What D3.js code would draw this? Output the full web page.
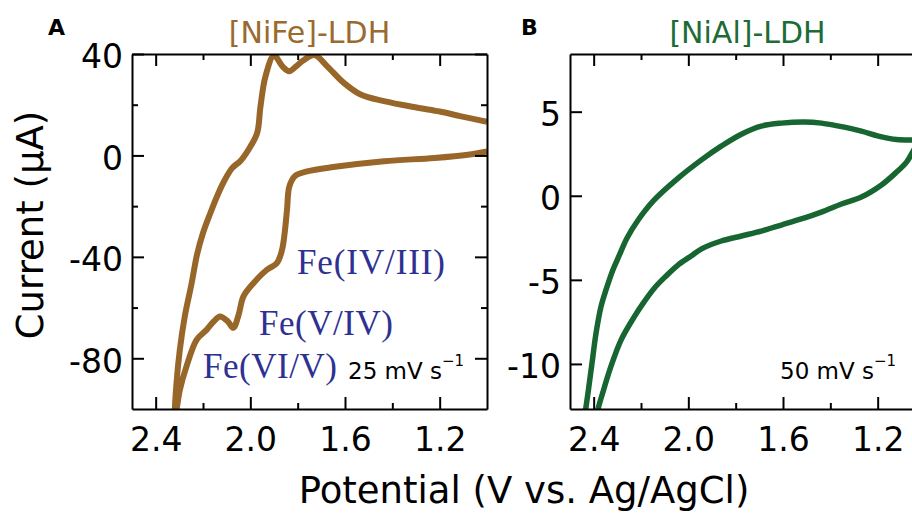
<!DOCTYPE html>
<html>
<head>
<meta charset="utf-8">
<script src="https://cdn.jsdelivr.net/npm/d3@7"></script>
<style>
  body { margin: 0; background: #fff; }
  svg { display: block; font-family: 'DejaVu Sans', sans-serif; }
</style>
</head>
<body>
<svg id="chart" width="912" height="513"></svg>
<script>
// [NiFe]-LDH cyclic voltammogram, 25 mV/s
const nifePotential = [1.00, 1.109, 1.20, 1.293, 1.435, 1.534, 1.605, 1.676, 1.729, 1.780, 1.808, 1.836, 1.865, 1.900,
  1.936, 1.957, 1.971, 1.999, 2.040, 2.077, 2.110, 2.140, 2.170, 2.200, 2.225, 2.248, 2.277, 2.298, 2.312, 2.320,
  2.319, 2.298, 2.270, 2.227, 2.185, 2.155, 2.128, 2.095, 2.072, 2.050, 2.029, 1.987, 1.930, 1.888, 1.866, 1.855,
  1.845, 1.835, 1.810, 1.760, 1.650, 1.435, 1.222, 1.081, 1.00];
const nifeCurrent = [13.3, 15.4, 17.3, 18.8, 21.4, 24.0, 28.6, 35.2, 39.6, 37.2, 35.0, 33.2, 35.2, 39.4,
  31.2, 19.4, 8.9, 3.6, -2.0, -5.0, -10, -16, -23, -30.6, -39, -50.4, -63.5, -76.7, -89.9, -104,
  -104, -92.5, -83.3, -72.7, -68.8, -65.5, -63.5, -65.5, -68.0, -63.0, -55.6, -50.4, -45.1, -42.5, -37.2, -30.6,
  -21.4, -12.2, -8.0, -6.3, -4.6, -2.3, -1.0, 0.3, 1.6];

// [NiAl]-LDH cyclic voltammogram, 50 mV/s
const nialPotential = [1.023, 1.048, 1.120, 1.197, 1.269, 1.341, 1.438, 1.510, 1.607, 1.692, 1.776, 1.861, 1.946,
  2.043, 2.145, 2.212, 2.259, 2.293, 2.322, 2.348, 2.369, 2.390, 2.407, 2.424, 2.433, 2.441,
  2.386, 2.382, 2.362, 2.327, 2.284, 2.228, 2.187, 2.143, 2.094, 2.044, 1.988, 1.946, 1.861, 1.776, 1.692, 1.607,
  1.523, 1.438, 1.353, 1.269, 1.184, 1.120, 1.078, 1.048, 1.023];
const nialCurrent = [3.3, 3.31, 3.34, 3.55, 3.84, 4.08, 4.32, 4.39, 4.32, 4.14, 3.66, 2.95, 2.12,
  1.05, -0.26, -1.44, -2.51, -3.58, -4.53, -5.60, -6.59, -8.17, -9.95, -11.73, -12.62, -13.4,
  -13.4, -12.73, -11.73, -10.15, -8.57, -7.19, -6.31, -5.48, -4.77, -4.12, -3.58, -3.17, -2.69, -2.39, -2.10, -1.74,
  -1.38, -0.97, -0.49, -0.08, 0.64, 1.41, 2.0, 2.71, 3.3];

const xTicks = [2.4, 2.0, 1.6, 1.2];
const xMinorTicks = [2.2, 1.8, 1.4];
const nifeYTicks = [40, 0, -40, -80];
const nifeYMinorTicks = [20, -20, -60];
const nialYTicks = [5, 0, -5, -10];
const nialYMinorTicks = [];

const svg = d3.select('#chart');
const plotW = 355, plotTop = 54, plotBottom = 409;

function drawPanel(cfg) {
  const x = d3.scaleLinear().domain([2.5, 1.0]).range([cfg.left, cfg.left + plotW]);
  const y = d3.scaleLinear().domain(cfg.yDomain).range([plotBottom, plotTop]);
  const g = svg.append('g');

  g.append('clipPath').attr('id', cfg.id + '-clip')
    .append('rect')
    .attr('x', cfg.left).attr('y', plotTop)
    .attr('width', plotW).attr('height', plotBottom - plotTop);

  const pts = cfg.potential.map((v, i) => [v, cfg.current[i]]);
  const line = d3.line()
    .x(d => x(d[0]))
    .y(d => y(d[1]))
    .curve(d3.curveCatmullRom.alpha(0.5));

  g.append('path')
    .datum(pts)
    .attr('clip-path', `url(#${cfg.id}-clip)`)
    .attr('d', line)
    .style('fill', 'none')
    .style('stroke', cfg.color)
    .style('stroke-width', cfg.lineWidth)
    .style('stroke-linejoin', 'round');

  // major + minor ticks, all pointing inward
  const axes = [
    {ax: d3.axisBottom(x), t: `translate(0,${plotBottom})`, major: xTicks, minor: xMinorTicks, labels: true, bottom: true},
    {ax: d3.axisTop(x), t: `translate(0,${plotTop})`, major: xTicks, minor: xMinorTicks, labels: false},
    {ax: d3.axisLeft(y), t: `translate(${cfg.left},0)`, major: cfg.yTicks, minor: cfg.yMinor, labels: true},
    {ax: d3.axisRight(y), t: `translate(${cfg.left + plotW},0)`, major: cfg.yTicks, minor: cfg.yMinor, labels: false}
  ];
  axes.forEach(a => {
    const fmt = a.bottom ? d3.format('.1f') : (d => String(d));
    const major = g.append('g').attr('transform', a.t)
      .call(a.ax.tickValues(a.major)
        .tickSizeInner(-12).tickSizeOuter(0)
        .tickPadding(a.bottom ? 19 : 9)
        .tickFormat(a.labels ? fmt : ''));
    major.select('.domain').style('stroke-width', 2);
    major.selectAll('.tick line').style('stroke-width', 2);
    major.selectAll('text')
      .style('font-size', '33px')
      .style('font-family', "'DejaVu Sans', sans-serif")
      .attr('dy', a.bottom ? '0.71em' : '0.42em');

    if (a.minor.length) {
      const mn = g.append('g').attr('transform', a.t)
        .call(a.ax.tickValues(a.minor).tickSizeInner(-6).tickFormat(''));
      mn.select('.domain').remove();
      mn.selectAll('.tick line').style('stroke-width', 2);
    }
  });

  g.append('text')
    .attr('x', cfg.left + plotW / 2)
    .attr('y', 43)
    .attr('text-anchor', 'middle')
    .style('font-size', '30px')
    .style('fill', cfg.titleColor)
    .text(cfg.title);

  g.append('text')
    .attr('x', cfg.letterX)
    .attr('y', 35)
    .style('font-size', '22px')
    .style('font-weight', 'bold')
    .text(cfg.letter);

  const rate = g.append('text')
    .attr('x', cfg.rateX)
    .attr('y', 379)
    .style('font-size', '23px');
  rate.append('tspan').text(cfg.rate);
  rate.append('tspan').attr('dy', -13).style('font-size', '15px').text('\u22121');

  return {x, y, g};
}

const pA = drawPanel({
  id: 'a', left: 132, yDomain: [-100, 40], yTicks: nifeYTicks, yMinor: nifeYMinorTicks,
  potential: nifePotential, current: nifeCurrent, color: '#976628', lineWidth: 6,
  title: '[NiFe]-LDH', titleColor: '#9a6a2e', letter: 'A', letterX: 48,
  rate: '25 mV s', rateX: 348
});

drawPanel({
  id: 'b', left: 570, yDomain: [-12.68, 8.43], yTicks: nialYTicks, yMinor: nialYMinorTicks,
  potential: nialPotential, current: nialCurrent, color: '#176631', lineWidth: 5.5,
  title: '[NiAl]-LDH', titleColor: '#1d6b37', letter: 'B', letterX: 521,
  rate: '50 mV s', rateX: 780
});

// iron redox-state annotations in panel A
const feLabels = [
  {text: 'Fe(IV/III)', x: 297, y: 274, w: 148},
  {text: 'Fe(V/IV)', x: 259, y: 335, w: 134},
  {text: 'Fe(VI/V)', x: 203, y: 378, w: 134}
];
pA.g.selectAll('text.fe')
  .data(feLabels)
  .enter()
  .append('text')
  .attr('class', 'fe')
  .attr('x', d => d.x)
  .attr('y', d => d.y)
  .attr('textLength', d => d.w)
  .attr('lengthAdjust', 'spacing')
  .style('font-family', "'Liberation Serif', serif")
  .style('font-size', '35px')
  .style('fill', '#2e3192')
  .text(d => d.text);

// shared axis titles
svg.append('text')
  .attr('x', 524)
  .attr('y', 503)
  .attr('text-anchor', 'middle')
  .style('font-size', '37px')
  .text('Potential (V vs. Ag/AgCl)');

svg.append('text')
  .attr('transform', 'translate(43,225) rotate(-90)')
  .attr('text-anchor', 'middle')
  .style('font-size', '37px')
  .text('Current (\u00b5A)');
</script>
</body>
</html>
